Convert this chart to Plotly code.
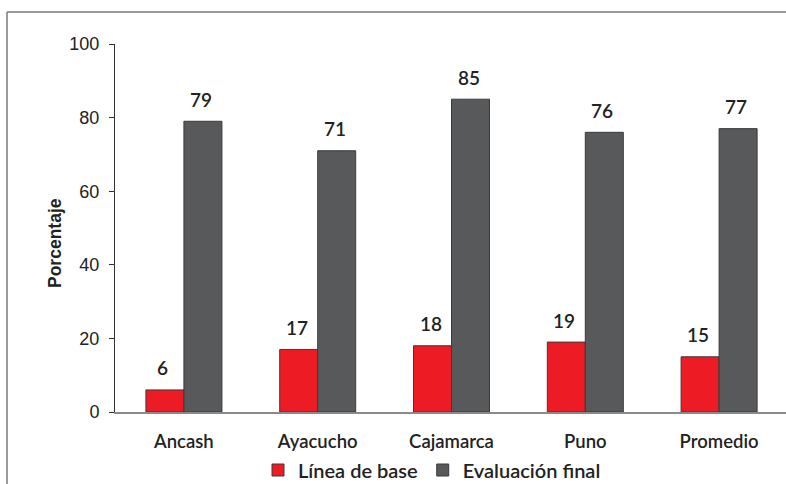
import plotly.graph_objects as go

# Departments and the share (%) at baseline and final evaluation
categorias = ["Ancash", "Ayacucho", "Cajamarca", "Puno", "Promedio"]
linea_base = [6, 17, 18, 19, 15]
evaluacion_final = [79, 71, 85, 76, 77]
y_ticks = [0, 20, 40, 60, 80, 100]

ROJO = "#ED1C24"
GRIS = "#58595B"
FONT_TXT = "Lato"
FONT_NUM = "Liberation Sans"

W, H = 786, 484
L, R, T, B = 115, 0, 44, 72
pw, ph = W - L - R, H - T - B

fig = go.Figure()
fig.add_trace(go.Bar(x=categorias, y=linea_base, name="Línea de base",
                     marker=dict(color=ROJO, line=dict(color="#3a3a3a", width=1))))
fig.add_trace(go.Bar(x=categorias, y=evaluacion_final, name="Evaluación final",
                     marker=dict(color=GRIS, line=dict(color="#3a3a3a", width=1))))

# value labels above each bar
ann = []
for serie, dx in ((linea_base, -19), (evaluacion_final, 19)):
    for c, v in zip(categorias, serie):
        ann.append(dict(x=c, y=v, xref="x", yref="y", text=str(v), showarrow=False,
                        xshift=dx - 2, yshift=22,
                        font=dict(family=FONT_TXT, size=19, color="#222", weight=600)))


def px_x(p):
    return (p - L) / pw


def px_y(p):
    return (H - B - p) / ph


ann.append(dict(x=px_x(43), y=px_y(243), xref="paper", yref="paper", text="Porcentaje",
                textangle=-90, showarrow=False,
                font=dict(family=FONT_NUM, size=17.5, color="#222", weight="bold")))

shapes = [
    dict(type="line", xref="paper", yref="paper", x0=px_x(7), x1=px_x(W + 5),
         y0=px_y(12), y1=px_y(12), line=dict(color="#7a7a7a", width=1.5)),
    dict(type="line", xref="paper", yref="paper", x0=px_x(7), x1=px_x(7),
         y0=px_y(12), y1=px_y(H + 5), line=dict(color="#7a7a7a", width=1.5)),
]

fig.update_layout(
    width=W, height=H,
    margin=dict(l=L, r=R, t=T, b=B, autoexpand=False),
    paper_bgcolor="white", plot_bgcolor="white",
    barmode="group", bargap=0.432, bargroupgap=0,
    showlegend=True,
    legend=dict(orientation="h", xref="container", x=432 / W, xanchor="center",
                yref="container", y=1 - 470 / H, yanchor="middle",
                bgcolor="rgba(0,0,0,0)",
                font=dict(family=FONT_TXT, size=20, color="#222", weight=600),
                itemwidth=30, tracegroupgap=0),
    annotations=ann, shapes=shapes,
    xaxis=dict(range=[-0.515, 4.5], showgrid=False, zeroline=False, automargin=False,
               showline=True, linecolor="#8a8a8a", linewidth=1.5,
               ticks="", ticklabelstandoff=12,
               tickfont=dict(family=FONT_TXT, size=18.5, color="#222", weight=600)),
    yaxis=dict(range=[0, 100], tickvals=y_ticks, showgrid=False, zeroline=False, automargin=False,
               showline=True, linecolor="#333", linewidth=1,
               ticks="outside", ticklen=5, tickcolor="#333", ticklabelstandoff=6,
               tickfont=dict(family=FONT_NUM, size=18, color="#222")),
)

fig.write_html("out.html")
